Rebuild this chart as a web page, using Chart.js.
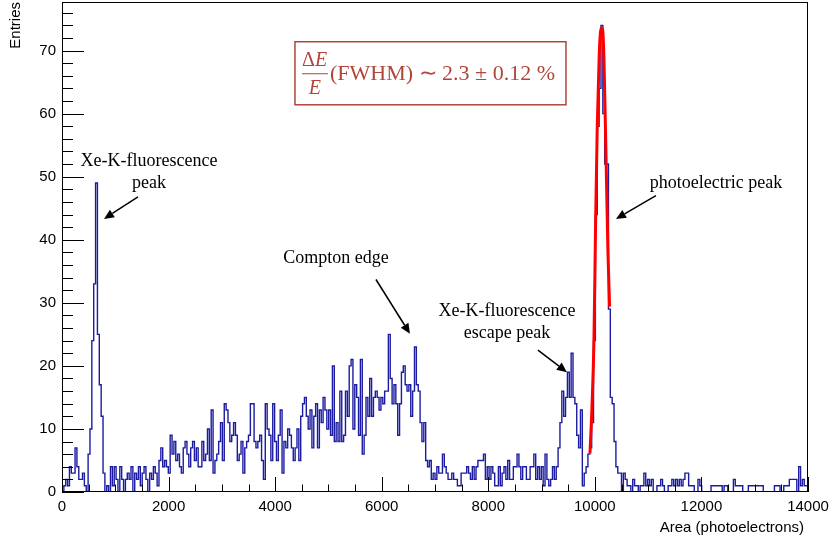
<!DOCTYPE html>
<html>
<head>
<meta charset="utf-8">
<script src="https://cdn.jsdelivr.net/npm/chart.js@4.4.1/dist/chart.umd.min.js"></script>
<style>
  html, body { margin: 0; padding: 0; background: #fff; }
  #spectrum { display: block; }
</style>
</head>
<body>
<canvas id="spectrum" width="829" height="546"></canvas>
<script>
// histogram: 400 bins of 35 photoelectrons from 0 to 14000
const binWidth = 35;
const countsStart = [0, 1, 2, 1, 4, 3, 3, 7, 4, 2, 2, 3, 1, 0];
const countsXePeak = [6, 10, 24, 33, 49, 25, 17, 12, 3];
const countsLow = [0, 1, 0, 4, 1, 4, 2, 0, 4, 2, 0, 2,
  3, 2, 4, 0, 3, 2, 4, 1, 3, 4, 2, 0, 3, 2, 4, 3, 1, 5, 7, 4, 5, 4,
  3, 9, 6, 8, 5, 6, 4, 3, 7, 8, 6, 4, 7, 8,
  5, 7, 4];
const countsCompton1 = [4, 8, 5, 6, 10, 5, 13, 3, 5, 6, 8, 11, 5, 14, 13, 11, 8, 9, 11, 9,
  5, 6, 8, 3, 7, 8, 9, 14, 14, 8, 7, 8, 9, 5, 2, 14, 10, 9, 5, 14,
  8, 5, 9, 13, 3, 8, 7, 10, 9, 7, 5, 7, 10, 5, 12, 14, 15, 12, 10, 13];
const countsCompton2 = [7, 12, 14, 7, 13, 11, 15, 13, 10, 13, 9, 20, 8, 11, 8, 16, 8, 9, 16, 12,
  20, 21, 10, 17, 15, 9, 21, 6, 9, 15, 12, 18, 12, 15, 16, 15, 13, 15, 14, 16,
  16, 25, 18, 14, 17, 14, 9, 14, 19, 20, 17, 16, 17, 12, 16, 23, 17, 16, 11, 8,
  11, 5, 4, 5, 2, 3, 2, 4, 3, 3];
const countsValley = [6, 4, 3, 2, 2, 3,
  2, 2, 1, 1, 3, 3, 3, 4, 3, 2, 4, 2, 4, 5, 5, 5, 6, 2, 4, 2,
  4, 3, 1, 1, 4, 1, 3, 4, 2, 5, 2, 2, 4, 4, 6, 4, 2, 4, 4, 2,
  2, 4, 4, 6, 2, 4, 2, 4, 1, 6, 2, 1, 2, 4, 2, 4];
const countsEscape = [7, 11, 16, 12, 15, 19, 15, 22, 15, 14, 9, 7, 13, 1, 3, 4, 6, 7];
const countsPhotoPeak = [11, 24, 44, 58, 64, 74, 60, 52, 52, 29, 15, 14, 8, 4, 3, 3];
const countsTail = [0, 3, 2, 1, 1, 0, 2, 1, 1, 0, 1, 1, 3, 1, 2, 1, 2, 0, 0, 1, 1,
  2, 1, 0, 0, 1, 1, 2, 1, 2, 1, 2, 1, 2, 3, 3, 1, 1, 1, 0, 0,
  2, 1, 0, 0, 0, 0, 0, 1, 1, 1, 1, 1, 1, 0, 1, 1, 0, 0, 0, 2,
  1, 1, 1, 1, 0, 0, 0, 1, 1, 1, 1, 1, 1, 1, 1, 0, 0, 0, 0, 0,
  0, 1, 1, 1, 0, 0, 1, 1, 1, 2, 2, 2, 2, 0, 4, 1, 2, 1, 1];

// gaussian fit curve
const fitX = [9908, 9946, 9983, 10015, 10045, 10083, 10120, 10146, 10171, 10208, 10246, 10277];
const fitY = [6.1, 13.5, 24.1, 43.2, 58.0, 69.6, 73.6, 73.3, 68.6, 53.8, 37.9, 29.4];

const xTicks = [0, 2000, 4000, 6000, 8000, 10000, 12000, 14000];
const yTicks = [0, 10, 20, 30, 40, 50, 60, 70];
const xMax = 14000;
const yMax = 77.7;

const counts = [].concat(countsStart, countsXePeak, countsLow, countsCompton1,
  countsCompton2, countsValley, countsEscape, countsPhotoPeak, countsTail);
// one point per low bin edge, plus the closing edge
const histPoints = counts.map((c, i) => ({ x: i * binWidth, y: c }));
histPoints.push({ x: counts.length * binWidth, y: counts[counts.length - 1] });
const fitPoints = fitX.map((x, i) => ({ x: x, y: fitY[i] }));

// annotations in data coordinates
const labels = [
  { text: "Xe-K-fluorescence", x: 1633, y: 52.4 },
  { text: "peak", x: 1633, y: 48.9 },
  { text: "Compton edge", x: 5142, y: 37.1 },
  { text: "Xe-K-fluorescence", x: 8350, y: 28.7 },
  { text: "escape peak", x: 8350, y: 25.2 },
  { text: "photoelectric peak", x: 12272, y: 48.9 }
];
const arrows = [
  [1426, 46.8, 788, 43.3],
  [5892, 33.7, 6530, 25.1],
  [8932, 22.5, 9476, 19.0],
  [11146, 47.0, 10396, 43.3]
];
const resBox = [4372, 71.4, 9458, 61.4];

const serif = '"Liberation Serif", "Times New Roman", serif';
const sans = '"Liberation Sans", Arial, sans-serif';
const boxRed = "#b0463a";

function drawArrow(ctx, x0, y0, x1, y1) {
  const ang = Math.atan2(y1 - y0, x1 - x0);
  const head = 10, half = 4.5;
  const bx = x1 - head * Math.cos(ang), by = y1 - head * Math.sin(ang);
  ctx.beginPath();
  ctx.moveTo(x0, y0);
  ctx.lineTo(bx, by);
  ctx.stroke();
  ctx.beginPath();
  ctx.moveTo(x1, y1);
  ctx.lineTo(bx - half * Math.sin(ang), by + half * Math.cos(ang));
  ctx.lineTo(bx + half * Math.sin(ang), by - half * Math.cos(ang));
  ctx.closePath();
  ctx.fill();
}

const rootFrame = {
  id: "rootFrame",
  afterDraw(chart) {
    const { ctx, chartArea: a } = chart;
    const sx = chart.scales.x, sy = chart.scales.y;
    ctx.save();
    ctx.strokeStyle = "#000";
    ctx.fillStyle = "#000";
    ctx.lineWidth = 1;
    ctx.strokeRect(Math.round(a.left) + 0.5, Math.round(a.top) + 0.5,
      Math.round(a.right - a.left) - 1, Math.round(a.bottom - a.top) - 1);

    // ticks inside the frame, ROOT style
    ctx.beginPath();
    for (let v = 0; v <= yMax; v += 2) {
      const py = Math.round(sy.getPixelForValue(v)) + 0.5;
      const len = v % 10 === 0 ? 22 : 11;
      ctx.moveTo(a.left, py);
      ctx.lineTo(a.left + len, py);
    }
    for (let v = 0; v <= xMax; v += 500) {
      const px = Math.round(sx.getPixelForValue(v)) + 0.5;
      const len = v % 2000 === 0 ? 15 : 7.5;
      ctx.moveTo(px, a.bottom);
      ctx.lineTo(px, a.bottom - len);
    }
    ctx.stroke();

    // axis titles
    ctx.font = "15px " + sans;
    ctx.textAlign = "right";
    ctx.textBaseline = "middle";
    ctx.fillText("Area (photoelectrons)", a.right - 4, a.bottom + 36);
    ctx.save();
    ctx.translate(16, a.top);
    ctx.rotate(-Math.PI / 2);
    ctx.fillText("Entries", 0, 0);
    ctx.restore();

    // annotations
    ctx.font = "18px " + serif;
    ctx.textAlign = "center";
    labels.forEach(l => ctx.fillText(l.text, sx.getPixelForValue(l.x), sy.getPixelForValue(l.y)));
    ctx.lineWidth = 1.5;
    arrows.forEach(r => drawArrow(ctx, sx.getPixelForValue(r[0]), sy.getPixelForValue(r[1]),
      sx.getPixelForValue(r[2]), sy.getPixelForValue(r[3])));

    // resolution box
    const bl = sx.getPixelForValue(resBox[0]), bt = sy.getPixelForValue(resBox[1]);
    const br = sx.getPixelForValue(resBox[2]), bb = sy.getPixelForValue(resBox[3]);
    ctx.strokeStyle = boxRed;
    ctx.fillStyle = boxRed;
    ctx.lineWidth = 1.5;
    ctx.strokeRect(bl, bt, br - bl, bb - bt);
    const mid = (bt + bb) / 2;
    const fx = bl + 20;
    ctx.font = "20px " + serif;
    ctx.textAlign = "right";
    ctx.fillText("\u0394", fx, mid - 13);
    ctx.font = "italic 20px " + serif;
    ctx.textAlign = "left";
    ctx.fillText("E", fx, mid - 13);
    ctx.textAlign = "center";
    ctx.fillText("E", fx, mid + 15);
    ctx.lineWidth = 1;
    ctx.beginPath();
    ctx.moveTo(bl + 7, mid + 0.5);
    ctx.lineTo(bl + 33, mid + 0.5);
    ctx.stroke();
    ctx.font = "22px " + serif;
    ctx.textAlign = "left";
    ctx.fillText("(FWHM) \u223C 2.3 \u00B1 0.12 %", bl + 35, mid + 1);
    ctx.restore();
  }
};

Chart.defaults.font.family = sans;
Chart.defaults.color = "#000";

new Chart(document.getElementById("spectrum"), {
  type: "line",
  data: {
    datasets: [
      {
        data: fitPoints,
        borderColor: "#ff0000",
        borderWidth: 3,
        pointRadius: 0,
        cubicInterpolationMode: "monotone",
        fill: false,
        order: 0
      },
      {
        data: histPoints,
        stepped: "before",
        borderColor: "#1c1ca0",
        borderWidth: 1.4,
        pointRadius: 0,
        fill: false,
        order: 1
      }
    ]
  },
  options: {
    responsive: false,
    animation: false,
    devicePixelRatio: 1,
    layout: { padding: { top: 2, right: 21, left: 0, bottom: 0 } },
    plugins: { legend: { display: false }, tooltip: { enabled: false } },
    scales: {
      x: {
        type: "linear",
        min: 0,
        max: xMax,
        grid: { display: false, drawTicks: false },
        border: { display: false },
        ticks: { font: { size: 15 }, padding: 6, maxRotation: 0, autoSkip: false,
          callback: v => String(v) },
        afterBuildTicks: s => { s.ticks = xTicks.map(v => ({ value: v })); },
        afterFit: s => { s.height = 54; s.paddingLeft = 0; s.paddingRight = 0; }
      },
      y: {
        type: "linear",
        min: 0,
        max: yMax,
        grid: { display: false, drawTicks: false },
        border: { display: false },
        ticks: { font: { size: 15 }, padding: 6, autoSkip: false,
          callback: v => String(v) },
        afterBuildTicks: s => { s.ticks = yTicks.map(v => ({ value: v })); },
        afterFit: s => { s.width = 62; s.paddingTop = 0; s.paddingBottom = 0; }
      }
    }
  },
  plugins: [rootFrame]
});
</script>
</body>
</html>
